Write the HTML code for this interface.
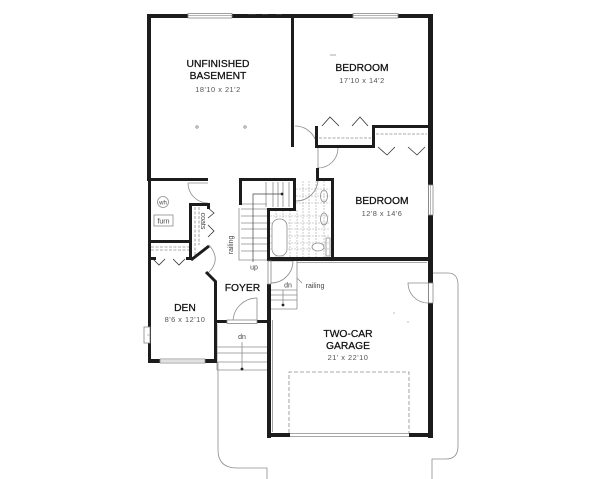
<!DOCTYPE html>
<html><head><meta charset="utf-8"><style>
html,body{margin:0;padding:0;background:#fff;}
svg{display:block;}
text{font-family:"Liberation Sans",Arial,sans-serif;}
.l{font-size:10.3px;fill:#111;stroke:#111;stroke-width:0.25px;text-anchor:middle;}
.d{font-size:7.4px;fill:#555;text-anchor:middle;letter-spacing:0.5px;}
.s{font-size:7px;fill:#444;text-anchor:middle;}
</style></head><body>
<svg width="600" height="479" viewBox="0 0 600 479" xmlns="http://www.w3.org/2000/svg">
<rect width="600" height="479" fill="#fff"/>

<!-- bath tiles -->
<g stroke="#a8a8a8" stroke-width="0.6" stroke-dasharray="2,1" fill="none">
  <path d="M303,181V257 M309,181V257 M316,181V257 M324,181V257 M276,210V257 M283,210V257 M290,210V257 M297,210V257"/>
  <path d="M296,189H330 M296,196H330 M296,203H330 M270,216H330 M270,223H330 M270,229H330 M270,236H330 M270,243H330 M270,249H330"/>
</g>

<!-- gray lines -->
<g fill="none" stroke="#8c8c8c" stroke-width="0.8">
  <path d="M241,204H267 M241,209H267 M241,216H267 M241,223H267 M241,229H267 M241,238H267 M241,244H267 M241,251H267"/>
  <path d="M266,182V207 M273,182V207 M278,182V207 M283,182V207 M289,182V207"/>
  <path d="M239,208V260 H267"/>
  <path d="M319,138H371 M376,134H427" stroke-dasharray="3,1.5"/>
  <path d="M151,247H189 M151,250H189" stroke-dasharray="3,1.5"/>
  <path d="M195,207V258 M199,207V245" stroke-dasharray="3,1.5"/>
  <path d="M295,126 A22,22 0 0 1 317,148"/>
  <path d="M338,148 A20,20 0 0 1 318,168 M318,148V168"/>
  <path d="M318,179 A22,22 0 0 1 296,201"/>
  <path d="M188,183 A20,20 0 0 0 208,203 M188,183H208"/>
  <path d="M209,245 Q222,260 208,273"/>
  <path d="M257,298 A24,24 0 0 0 233,322 M257,298V322"/>
  <path d="M293,261 A22,22 0 0 1 271,283 M271,261H293"/>
  <path d="M428,283 H408 A20,20 0 0 0 428,303"/>
  <path d="M297,261V309 M271,290H297 M271,295H297 M271,300H297 M271,309H297 M283,290V305"/>
  <path d="M297,278 L302,283"/>
  <path d="M217,347H267 M217,353H267 M217,362H267 M217,370H267 M242,342V369 M217,324V370"/>
  <path d="M218,362 V450 Q218,468 237,468 H267 V479"/>
  <path d="M433,273 H448 Q458,273 458,285 V446 Q458,459 446,459 H432 V479"/>
  <path d="M289,433 V372 H409 V433" stroke-dasharray="4,2"/>
  <path d="M290,433.5H409 M290,436.5H409"/>
  <path d="M272.5,320V432 M297,262.5H427"/>
  <rect x="272" y="219" width="15" height="37" rx="7" fill="#fff"/>
  <ellipse cx="324" cy="196" rx="3.5" ry="6"/>
  <ellipse cx="324" cy="219" rx="3.5" ry="6"/>
  <ellipse cx="318" cy="247" rx="6" ry="4" fill="#fff"/>
  <rect x="326" y="238" width="4" height="18"/>
  <circle cx="163" cy="202" r="5.5"/>
  <rect x="154" y="215" width="19" height="11"/>
</g>

<!-- chevrons (bifold doors) -->
<g fill="none" stroke="#333" stroke-width="0.8">
  <path d="M322,126 L330,117 L339,126 M352,126 L360,117 L368,126"/>
  <path d="M378,147 L387,155 L395,147 M408,147 L417,155 L425,147"/>
  <path d="M208,208 L214,213 L208,218 M208,225 L214,231 L208,237"/>
  <path d="M153,259 L159,265 L165,259 M173,259 L179,265 L185,259"/>
</g>

<!-- walls -->
<g fill="#1c1c1c">
  <rect x="147" y="14" width="286" height="4"/>
  <rect x="147" y="14" width="4" height="167"/>
  <rect x="148" y="180" width="3" height="183"/>
  <rect x="428" y="14" width="5" height="424"/>
  <rect x="291" y="18" width="3" height="129"/>
  <rect x="315" y="126" width="3" height="22"/>
  <rect x="315" y="145" width="60" height="3"/>
  <rect x="372" y="125" width="3" height="23"/>
  <rect x="372" y="125" width="58" height="3"/>
  <rect x="316" y="168" width="3" height="13"/>
  <rect x="316" y="178" width="18" height="3"/>
  <rect x="331" y="178" width="3" height="81"/>
  <rect x="148" y="178" width="60" height="3"/>
  <rect x="239" y="178" width="57" height="3"/>
  <rect x="239" y="178" width="3" height="27"/>
  <rect x="293" y="178" width="3" height="32"/>
  <rect x="267" y="208" width="29" height="3"/>
  <rect x="267" y="208" width="3" height="52"/>
  <rect x="267" y="257" width="166" height="4"/>
  <rect x="267" y="284" width="4" height="154"/>
  <rect x="267" y="433" width="23" height="4"/>
  <rect x="409" y="433" width="24" height="4"/>
  <rect x="214" y="320" width="56" height="3"/>
  <rect x="214" y="281" width="3" height="82"/>
  <rect x="148" y="359" width="69" height="4"/>
  <rect x="148" y="257" width="8" height="3"/>
  <rect x="186" y="257" width="7" height="3"/>
  <rect x="148" y="240" width="44" height="3"/>
  <rect x="189" y="203" width="3" height="57"/>
  <rect x="189" y="203" width="21" height="3"/>
  <rect x="207" y="203" width="3" height="6"/>
</g>
<g stroke="#1c1c1c" stroke-width="3" fill="none">
  <line x1="191" y1="260" x2="209" y2="246"/>
  <line x1="206" y1="272" x2="216" y2="282"/>
</g>

<!-- windows / openings -->
<g fill="#fff" stroke="#888" stroke-width="0.8">
  <rect x="188" y="13.5" width="44" height="4.5"/>
  <rect x="353" y="13.5" width="45" height="4.5"/>
  <rect x="428.5" y="185" width="4.5" height="30"/>
  <rect x="428.5" y="283" width="4.5" height="20"/>
  <rect x="144" y="327" width="6" height="16"/>
  <rect x="160" y="359" width="45" height="4"/>
  <rect x="268" y="261" width="3" height="23"/>
  <rect x="227" y="320" width="30" height="3.5"/>
</g>
<g stroke="#888" stroke-width="0.6">
  <path d="M188,15.7H232 M353,15.7H398 M430.7,185V215 M147,335H150 M160,361H205"/>
  <path d="M248,14.5H256 M262,14.5H268 M276,14.5H282 M330,55H336" stroke="#555"/>
</g>
<circle cx="197" cy="127" r="1.2" fill="none" stroke="#666" stroke-width="0.6"/>
<circle cx="245" cy="127" r="1.2" fill="none" stroke="#666" stroke-width="0.6"/>
<circle cx="282" cy="194" r="1.4" fill="#222"/>
<circle cx="283" cy="305" r="1.4" fill="#222"/>
<circle cx="242" cy="369" r="1.4" fill="#222"/>
<path d="M253,262V194H281" stroke="#444" stroke-width="0.7" fill="none"/>
<circle cx="394" cy="313" r="0.6" fill="#888"/>
<circle cx="408" cy="322" r="0.6" fill="#888"/>

<!-- labels -->
<text class="l" x="218" y="67">UNFINISHED</text>
<text class="l" x="218" y="79">BASEMENT</text>
<text class="d" x="218" y="92">18'10 x 21'2</text>
<text class="l" x="362" y="71">BEDROOM</text>
<text class="d" x="362" y="83">17'10 x 14'2</text>
<text class="l" x="382" y="204">BEDROOM</text>
<text class="d" x="382" y="216">12'8 x 14'6</text>
<text class="l" x="242.5" y="291">FOYER</text>
<text class="l" x="185" y="311">DEN</text>
<text class="d" x="185" y="322">8'6 x 12'10</text>
<text class="l" x="348" y="337">TWO-CAR</text>
<text class="l" x="348" y="349">GARAGE</text>
<text class="d" x="348" y="360">21' x 22'10</text>

<text class="s" x="163" y="204.5" style="font-size:6px">wh</text>
<text class="s" x="163.5" y="223.5">furn</text>
<text class="s" x="254" y="269.5">up</text>
<text class="s" x="288" y="287.5">dn</text>
<text class="s" x="315" y="288">railing</text>
<text class="s" x="242" y="339">dn</text>
<text class="s" transform="translate(233,245) rotate(-90)">railing</text>
<text class="s" transform="translate(201,221) rotate(90)">coats</text>
</svg>
</body></html>
